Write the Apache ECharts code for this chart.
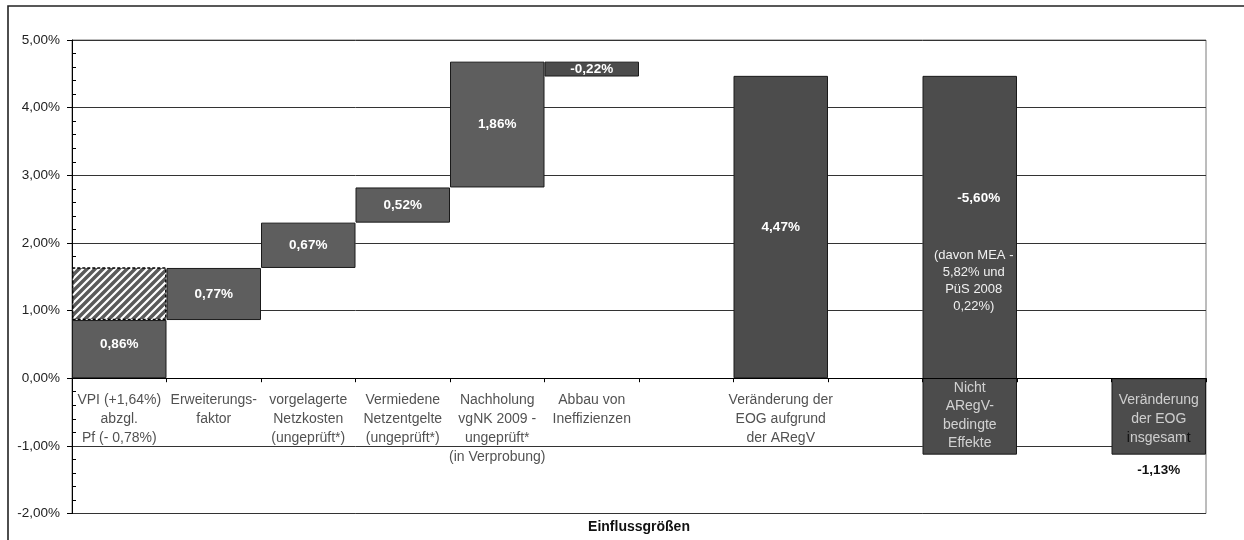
<!DOCTYPE html>
<html>
<head>
<meta charset="utf-8">
<script src="https://cdn.jsdelivr.net/npm/echarts@6/dist/echarts.min.js"></script>
<style>
html,body{margin:0;padding:0;background:#fff;}
#c{width:1244px;height:540px;}
</style>
</head>
<body>
<div id="c"></div>
<script>
// ---- data ----
const categories = [
  'VPI (+1,64%)\nabzgl.\nPf (- 0,78%)',
  'Erweiterungs-\nfaktor',
  'vorgelagerte\nNetzkosten\n(ungeprüft*)',
  'Vermiedene\nNetzentgelte\n(ungeprüft*)',
  'Nachholung\nvgNK 2009 -\nungeprüft*\n(in Verprobung)',
  'Abbau von\nIneffizienzen',
  ' ',
  'Veränderung der\nEOG aufgrund\nder ARegV',
  '  ',
  'Nicht\nARegV-\nbedingte\nEffekte',
  '   ',
  'Veränderung\nder EOG\ninsgesamt'
];
const baseValues  = [0, 0.86, 1.63, 2.30, 2.82, 4.68, null, 0, null, 4.47, null, 0];
const deltaValues = [0.86, 0.77, 0.67, 0.52, 1.86, -0.22, null, 4.47, null, -5.60, null, -1.13];
const hatchValues = [0.78, null, null, null, null, null, null, null, null, null, null, null];
const yMin = -2, yMax = 5, yInterval = 1;
const noteText = '(davon MEA -\n5,82% und\nPüS 2008\n0,22%)';
const axisName = 'Einflussgrößen';

// ---- styling helpers ----
const FONT = '"Liberation Sans", Arial, sans-serif';
const fmt = v => Number(v).toFixed(2).replace('.', ',') + '%';
const NICHT = 9, TOTAL = 11;
const colorFor = i => (i < 5 ? '#5e5e5e' : '#4c4c4c');

function hatchCanvas() {
  const c = document.createElement('canvas');
  c.width = 8; c.height = 8;
  const g = c.getContext('2d');
  g.fillStyle = '#5a5a5a';
  g.fillRect(0, 0, 8, 8);
  g.strokeStyle = '#ffffff';
  g.lineWidth = 2.2;
  g.beginPath();
  g.moveTo(-2, 10); g.lineTo(10, -2);
  g.moveTo(-2, 2); g.lineTo(2, -2);
  g.moveTo(6, 10); g.lineTo(10, 6);
  g.stroke();
  return c;
}

function labelFor(i) {
  if (i === 0) return { offset: [0, -5] };
  if (i === NICHT) {
    return {
      position: ['50%', 74], align: 'center', verticalAlign: 'top', offset: [4, 0],
      formatter: p => '{b|' + fmt(p.value) + '}\n' +
        noteText.split('\n').map(s => '{n|' + s + '}').join('\n'),
      rich: {
        b: { fontFamily: FONT, fontSize: 13.5, fontWeight: 'bold', color: '#ffffff', lineHeight: 97, padding: [0, 0, 0, 10] },
        n: { fontFamily: FONT, fontSize: 13, fontWeight: 'normal', color: '#f0f0f0', lineHeight: 17 }
      }
    };
  }
  if (i === TOTAL) return { position: 'bottom', distance: 9, color: '#111111' };
  return {};
}

const deltaData = deltaValues.map((v, i) => v == null ? null : ({
  value: v,
  itemStyle: { color: colorFor(i) },
  label: labelFor(i)
}));

// category labels placed at the zero line through the axes' own scales
function catLabelFor(i) {
  const txt = categories[i];
  if (i === NICHT) {
    return { distance: 0, lineHeight: 18.5, color: '#f2f2f2', formatter: () => txt };
  }
  if (i === TOTAL) {
    const lines = txt.split('\n');
    const last = lines.pop();
    const rt = lines.map(s => '{w|' + s + '}').join('\n') + '\n' +
      '{d|' + last.slice(0, 1) + '}{w|' + last.slice(1, -1) + '}{d|' + last.slice(-1) + '}';
    return {
      formatter: () => rt,
      rich: {
        w: { fontFamily: FONT, fontSize: 14, lineHeight: 19, color: '#eeeeee' },
        d: { fontFamily: FONT, fontSize: 14, lineHeight: 19, color: '#000000' }
      }
    };
  }
  return { formatter: () => txt };
}
const catLabelData = categories.map((c, i) => ({ value: [i, 0], label: catLabelFor(i) }));

const chart = echarts.init(document.getElementById('c'), null, { renderer: 'canvas' });
chart.setOption({
  animation: false,
  backgroundColor: '#ffffff',
  textStyle: { fontFamily: FONT },
  graphic: [{
    type: 'rect', silent: true, z: 100,
    shape: { x: 8, y: 6, width: 1400, height: 700 },
    style: { fill: 'none', stroke: '#222222', lineWidth: 1.6 }
  }],
  grid: {
    left: 72, top: 40, right: 38, bottom: 26.5,
    containLabel: false, outerBoundsMode: 'none',
    show: true, borderColor: '#7a7a7a', borderWidth: 1, backgroundColor: 'transparent'
  },
  xAxis: {
    type: 'category',
    data: categories,
    z: 5,
    axisLine: { onZero: true, lineStyle: { color: '#000000', width: 1 } },
    axisTick: { show: true, interval: 0, length: 4, lineStyle: { color: '#000000' } },
    axisLabel: { show: false },
    splitLine: { show: false },
    name: axisName,
    nameLocation: 'middle',
    nameGap: 7,
    nameTextStyle: { fontFamily: FONT, fontWeight: 'bold', fontSize: 14, color: '#111111', verticalAlign: 'top' }
  },
  yAxis: {
    type: 'value',
    min: yMin, max: yMax, interval: yInterval,
    axisLine: { show: true, lineStyle: { color: '#000000' } },
    axisTick: { show: true, length: 5, lineStyle: { color: '#000000' } },
    minorTick: { show: true, splitNumber: 5, length: -4, lineStyle: { color: '#000000' } },
    axisLabel: { formatter: v => fmt(v), fontFamily: FONT, fontSize: 13.5, color: '#222222', margin: 12 },
    splitLine: { show: true, lineStyle: { color: '#333333', width: 1 } }
  },
  series: [
    {
      name: 'base', type: 'bar', stack: 'w', stackStrategy: 'all',
      barCategoryGap: '0%', silent: true,
      data: baseValues,
      itemStyle: { color: 'transparent', borderWidth: 0 },
      emphasis: { disabled: true }
    },
    {
      name: 'delta', type: 'bar', stack: 'w', stackStrategy: 'all',
      barCategoryGap: '0%', silent: true,
      data: deltaData,
      itemStyle: { borderColor: '#1a1a1a', borderWidth: 1 },
      label: {
        show: true, position: 'inside', color: '#ffffff', fontFamily: FONT,
        fontWeight: 'bold', fontSize: 13.5,
        formatter: p => fmt(p.value)
      },
      emphasis: { disabled: true }
    },
    {
      name: 'hatch', type: 'bar', stack: 'w', stackStrategy: 'all',
      barCategoryGap: '0%', silent: true,
      data: hatchValues,
      itemStyle: {
        color: { image: hatchCanvas(), repeat: 'repeat' },
        borderColor: '#000000', borderType: [3, 2], borderWidth: 1.4
      },
      emphasis: { disabled: true }
    },
    {
      name: 'categoryLabels', type: 'scatter', silent: true, z: 6,
      data: catLabelData,
      symbolSize: 1,
      itemStyle: { color: 'transparent' },
      label: {
        show: true, position: 'bottom', distance: 11.5,
        fontFamily: FONT, fontSize: 14, lineHeight: 19, color: '#262626'
      },
      labelLayout: { hideOverlap: false },
      emphasis: { disabled: true }
    }
  ]
});
</script>
</body>
</html>
